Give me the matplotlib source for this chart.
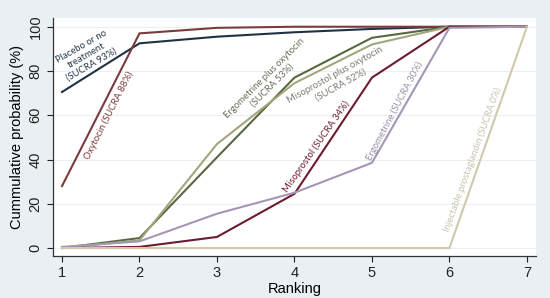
import numpy as np
import matplotlib
matplotlib.use('Agg')
import matplotlib.pyplot as plt

ranks = [1, 2, 3, 4, 5, 6, 7]

placebo = [70.5, 92.5, 95.5, 97.5, 99.0, 100, 100]
oxytocin = [28, 97, 99.5, 100, 100, 100, 100]
ergo_oxy = [0, 4.5, 41, 77, 95, 100, 100]
miso_oxy = [0, 3.5, 47, 74.5, 92, 100, 100]
misoprostol = [0, 0.5, 5, 24.5, 77, 100, 100]
ergometrine = [0.5, 3, 15.5, 25, 38.5, 99.5, 100]
prostaglandin = [0, 0, 0, 0, 0, 0, 100]

series = [
    (placebo, "#1f3245"),
    (oxytocin, "#7b3a3c"),
    (ergo_oxy, "#56693f"),
    (miso_oxy, "#a3a67c"),
    (misoprostol, "#6c1c2e"),
    (ergometrine, "#a596b5"),
    (prostaglandin, "#d0c9ab"),
]

# label text, x, y, rotation, colour
labels = [
    ("Placebo or no\ntreatment\n(SUCRA 93%)", 1.32, 87, 30, "#2a3a4a"),
    ("Oxytocin (SUCRA 88%)", 1.60, 60, 63, "#7b3a3c"),
    ("Ergometrine plus oxytocin\n(SUCRA 53%)", 3.66, 75, 45, "#6a6f5a"),
    ("Misoprostol plus oxytocin\n(SUCRA 52%)", 4.56, 76, 29, "#7c7c72"),
    ("Misoprostol (SUCRA 34%)", 4.28, 46, 55, "#6c1c2e"),
    ("Ergometrine (SUCRA 30%)", 5.29, 62, 62, "#9a90a6"),
    ("Injectable prostaglandin (SUCRA 0%)", 6.30, 40, 70, "#c9c3b0"),
]

plt.rcParams['font.family'] = ['Liberation Sans', 'DejaVu Sans']

fig = plt.figure(figsize=(5.5, 2.98), dpi=100)
fig.patch.set_facecolor("#e9eff3")
ax = fig.add_axes([0.0964, 0.141, 0.878, 0.799])
ax.set_facecolor("white")

for vals, c in series:
    ax.plot(ranks, vals, color=c, lw=1.5, solid_joinstyle='miter')

for txt, x, y, rot, c in labels:
    ax.text(x, y, txt, rotation=rot, color=c, fontsize=6.8, ha='center', va='center',
            rotation_mode='anchor', multialignment='center', family='Lato')

ax.set_xlim(0.884, 7.116)
ax.set_ylim(-3.6, 104)
ax.set_xticks(ranks)
ax.set_yticks([0, 20, 40, 60, 80, 100])
ax.set_yticklabels(["0", "20", "40", "60", "80", "100"], rotation=90, va='center')
ax.grid(axis='y', color="#edf0f2", lw=0.8)
ax.set_axisbelow(True)
for s in ["top", "right"]:
    ax.spines[s].set_visible(False)
for s in ["left", "bottom"]:
    ax.spines[s].set_color("#333333")
    ax.spines[s].set_linewidth(0.9)
ax.tick_params(labelsize=10.5, colors="#222222", length=4, width=0.8)
ax.set_xlabel("Ranking", fontsize=10.5, labelpad=1)
ax.set_ylabel("Cummulative probability (%)", fontsize=10.5, labelpad=3)

fig.savefig("out.png", dpi=100, facecolor=fig.get_facecolor())
